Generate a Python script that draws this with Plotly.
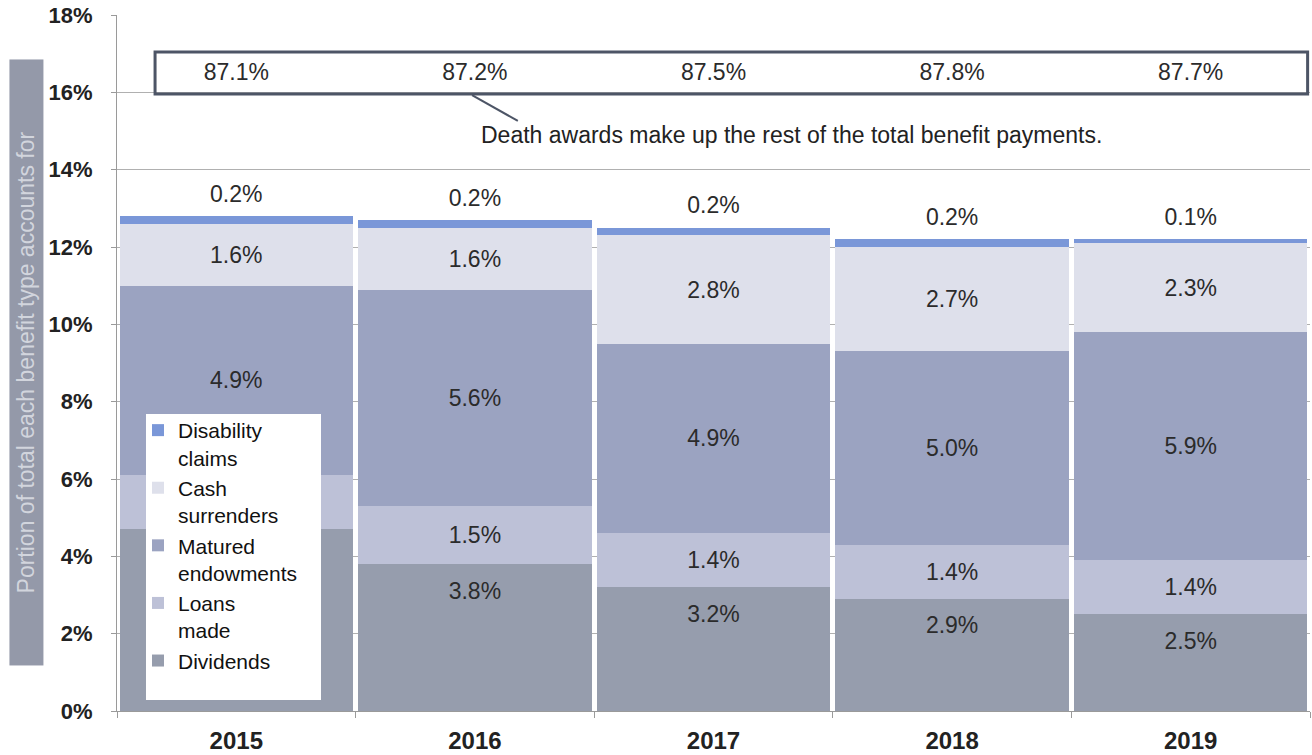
import plotly.graph_objects as go

years = ["2015", "2016", "2017", "2018", "2019"]
dividends = [4.7, 3.8, 3.2, 2.9, 2.5]
loans_made = [1.4, 1.5, 1.4, 1.4, 1.4]
matured_endowments = [4.9, 5.6, 4.9, 5.0, 5.9]
cash_surrenders = [1.6, 1.6, 2.8, 2.7, 2.3]
disability_claims = [0.2, 0.2, 0.2, 0.2, 0.1]
death_awards = [87.1, 87.2, 87.5, 87.8, 87.7]

# labels hidden behind the legend in the original (series, year)
hidden_labels = {("Dividends", "2015"), ("Loans", "2015")}

y_ticks = [0, 2, 4, 6, 8, 10, 12, 14, 16, 18]

FONT = "Liberation Sans"
TXT = "#2b2b2b"
LBL = 23


def labels(key, vals):
    return ["" if (key, yr) in hidden_labels else f"{v:.1f}%" for yr, v in zip(years, vals)]


series = [
    ("Dividends", "Dividends", dividends, "#969dad", False),
    ("Loans", "Loans<br>made", loans_made, "#bdc1d7", True),
    ("Matured", "Matured<br>endowments", matured_endowments, "#9ba3c1", True),
    ("Cash", "Cash<br>surrenders", cash_surrenders, "#dee0eb", True),
    ("Disability", "Disability<br>claims", disability_claims, "#7a97d8", False),
]

fig = go.Figure()
for key, name, vals, color, inside_label in series:
    fig.add_trace(go.Bar(
        x=years, y=vals, name=name,
        marker=dict(color=color, line=dict(width=0)),
        text=labels(key, vals) if inside_label else None,
        textposition="inside" if inside_label else "none",
        insidetextanchor="middle", textangle=0,
        textfont=dict(family=FONT, size=LBL, color=TXT),
        hoverinfo="skip",
    ))

# dividends labels: just below the top of the dividends segment
fig.add_trace(go.Scatter(
    x=years, y=dividends, mode="markers+text",
    marker=dict(size=26, color="rgba(0,0,0,0)"),
    text=labels("Dividends", dividends), textposition="bottom center",
    textfont=dict(family=FONT, size=LBL, color=TXT),
    showlegend=False, hoverinfo="skip",
))

# disability labels: above the top of each stack
totals = [a + b + c + d + e for a, b, c, d, e in
          zip(dividends, loans_made, matured_endowments, cash_surrenders, disability_claims)]
fig.add_trace(go.Scatter(
    x=years, y=totals, mode="markers+text",
    marker=dict(size=12, color="rgba(0,0,0,0)"),
    text=labels("Disability", disability_claims), textposition="top center",
    textfont=dict(family=FONT, size=LBL, color=TXT),
    showlegend=False, hoverinfo="skip", cliponaxis=False,
))

LABEL_Y = 16.47
fig.add_trace(go.Scatter(
    x=years, y=[LABEL_Y] * len(years), mode="text",
    text=[f"{v:.1f}%" for v in death_awards],
    textfont=dict(family=FONT, size=LBL, color=TXT),
    showlegend=False, hoverinfo="skip",
))

fig.update_layout(
    width=1312, height=755,
    margin=dict(l=117, r=2, t=15, b=44),
    plot_bgcolor="white", paper_bgcolor="white",
    barmode="stack", bargap=0.021,
    font=dict(family=FONT, color=TXT),
    legend=dict(
        x=0.0176, y=0.4325, xanchor="left", yanchor="top",
        bgcolor="rgba(255,255,255,0)", traceorder="reversed",
        font=dict(family=FONT, size=21, color="#111"),
        itemwidth=30, tracegroupgap=0, valign="top",
    ),
    xaxis=dict(
        showline=True, linecolor="#9a9a9a", linewidth=1,
        ticks="outside", ticklen=6, tickcolor="#9a9a9a", tickson="boundaries",
        tickfont=dict(family=FONT, size=24, color="#222"),
        ticklabelstandoff=8, automargin=False,
        showgrid=False,
        tickvals=years, ticktext=[f"<b>{y}</b>" for y in years],
    ),
    yaxis=dict(
        range=[0, 18], tickvals=y_ticks,
        ticktext=[f"<b>{t}%</b>" for t in y_ticks],
        showline=True, linecolor="#9a9a9a", linewidth=1,
        ticks="outside", ticklen=5, tickcolor="#9a9a9a",
        showgrid=True, gridcolor="#b0b0b0", gridwidth=1,
        tickfont=dict(family=FONT, size=22, color="#222"),
        ticklabelstandoff=14, automargin=False,
        zeroline=False,
    ),
)

# y-axis title on gray bar
fig.add_annotation(
    text="Portion of total each benefit type accounts for",
    xref="paper", yref="paper", x=-0.0759, y=0.5007, xanchor="center", yanchor="middle",
    textangle=-90, showarrow=False, bgcolor="#9499a9",
    width=603, height=31,
    font=dict(family=FONT, size=23, color="#d2d5dd"),
)

# white panel behind the legend
fig.add_shape(type="rect", xref="paper", yref="paper", layer="above",
              x0=0.0243, x1=0.171, y0=0.0158, y1=0.4267,
              line=dict(width=0), fillcolor="white")

# box around death award labels
fig.add_shape(type="rect", xref="paper", yref="y",
              x0=0.0319, x1=0.998, y0=15.96, y1=17.04,
              line=dict(color="#4d5566", width=3), fillcolor="rgba(0,0,0,0)")
fig.add_shape(type="line", xref="paper", yref="y",
              x0=0.2976, y0=15.93, x1=0.336, y1=15.26,
              line=dict(color="#4d5566", width=2))
fig.add_annotation(
    text="Death awards make up the rest of the total benefit payments.",
    xref="paper", yref="y", x=0.565, y=14.9, showarrow=False,
    font=dict(family=FONT, size=23, color="#222"),
)

fig.write_html("out.html", config={"displayModeBar": False},
               post_script="document.body.style.margin='0px';")
